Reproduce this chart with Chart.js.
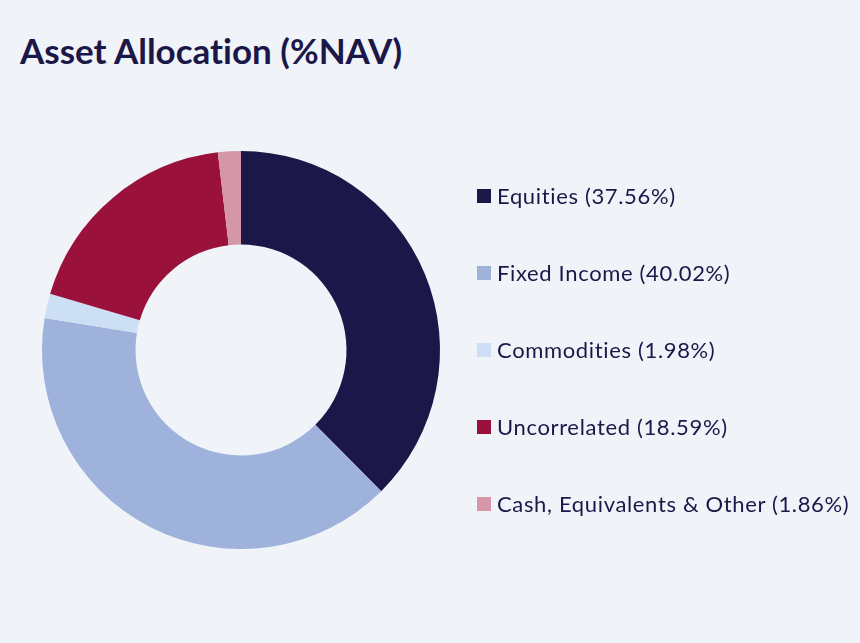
<!DOCTYPE html>
<html>
<head>
<meta charset="utf-8">
<script src="https://cdn.jsdelivr.net/npm/chart.js@4"></script>
<style>
  html, body { margin: 0; padding: 0; background: #f0f4f9; }
  #wrap { position: relative; width: 860px; height: 643px; overflow: hidden; }
  #title {
    position: absolute; left: 20px; top: 29px; margin: 0;
    font-family: Lato, "Noto Sans", sans-serif; font-weight: 700; font-size: 35px;
    color: #1b1748; font-variant-ligatures: none;
  }
  #chartBox { position: absolute; left: 0; top: 0; width: 860px; height: 643px; }
  #legend { position: absolute; left: 477px; top: 180px; margin: 0; padding: 0; list-style: none; }
  #legend li {
    height: 77px; display: flex; align-items: flex-start;
    font-family: Lato, "Noto Sans", sans-serif; font-size: 22px; color: #1b1748;
    line-height: 32px; letter-spacing: 0.65px; font-variant-ligatures: none;
  }
  #legend .box { width: 14px; height: 14px; margin: 9px 6px 0 0; flex: none; }
</style>
</head>
<body>
<div id="wrap">
  <h1 id="title">Asset Allocation (%NAV)</h1>
  <div id="chartBox"><canvas id="myChart" width="860" height="643"></canvas></div>
  <ul id="legend"></ul>
</div>
<script>
const categories = ["Equities", "Fixed Income", "Commodities", "Uncorrelated", "Cash, Equivalents & Other"];
const allocation = [37.56, 40.02, 1.98, 18.59, 1.86];
const sliceColors = ["#1b1748", "#9eb2dc", "#cddff4", "#9a113c", "#d597a8"];

// legend built from the same arrays
const legend = document.getElementById("legend");
categories.forEach((name, i) => {
  const li = document.createElement("li");
  const box = document.createElement("span");
  box.className = "box";
  box.style.background = sliceColors[i];
  li.appendChild(box);
  li.appendChild(document.createTextNode(`${name} (${allocation[i].toFixed(2)}%)`));
  legend.appendChild(li);
});

const ctx = document.getElementById("myChart").getContext("2d");
window.myChart = new Chart(ctx, {
  type: "doughnut",
  data: {
    labels: categories,
    datasets: [
      {
        data: allocation,
        backgroundColor: sliceColors,
        borderWidth: 0,
      },
    ],
  },
  options: {
    responsive: false,
    animation: false,
    cutout: "53%",
    layout: {
      padding: { left: 42, right: 420, top: 151, bottom: 94 },
    },
    plugins: {
      legend: { display: false },
      tooltip: { enabled: false },
    },
  },
});
</script>
</body>
</html>
